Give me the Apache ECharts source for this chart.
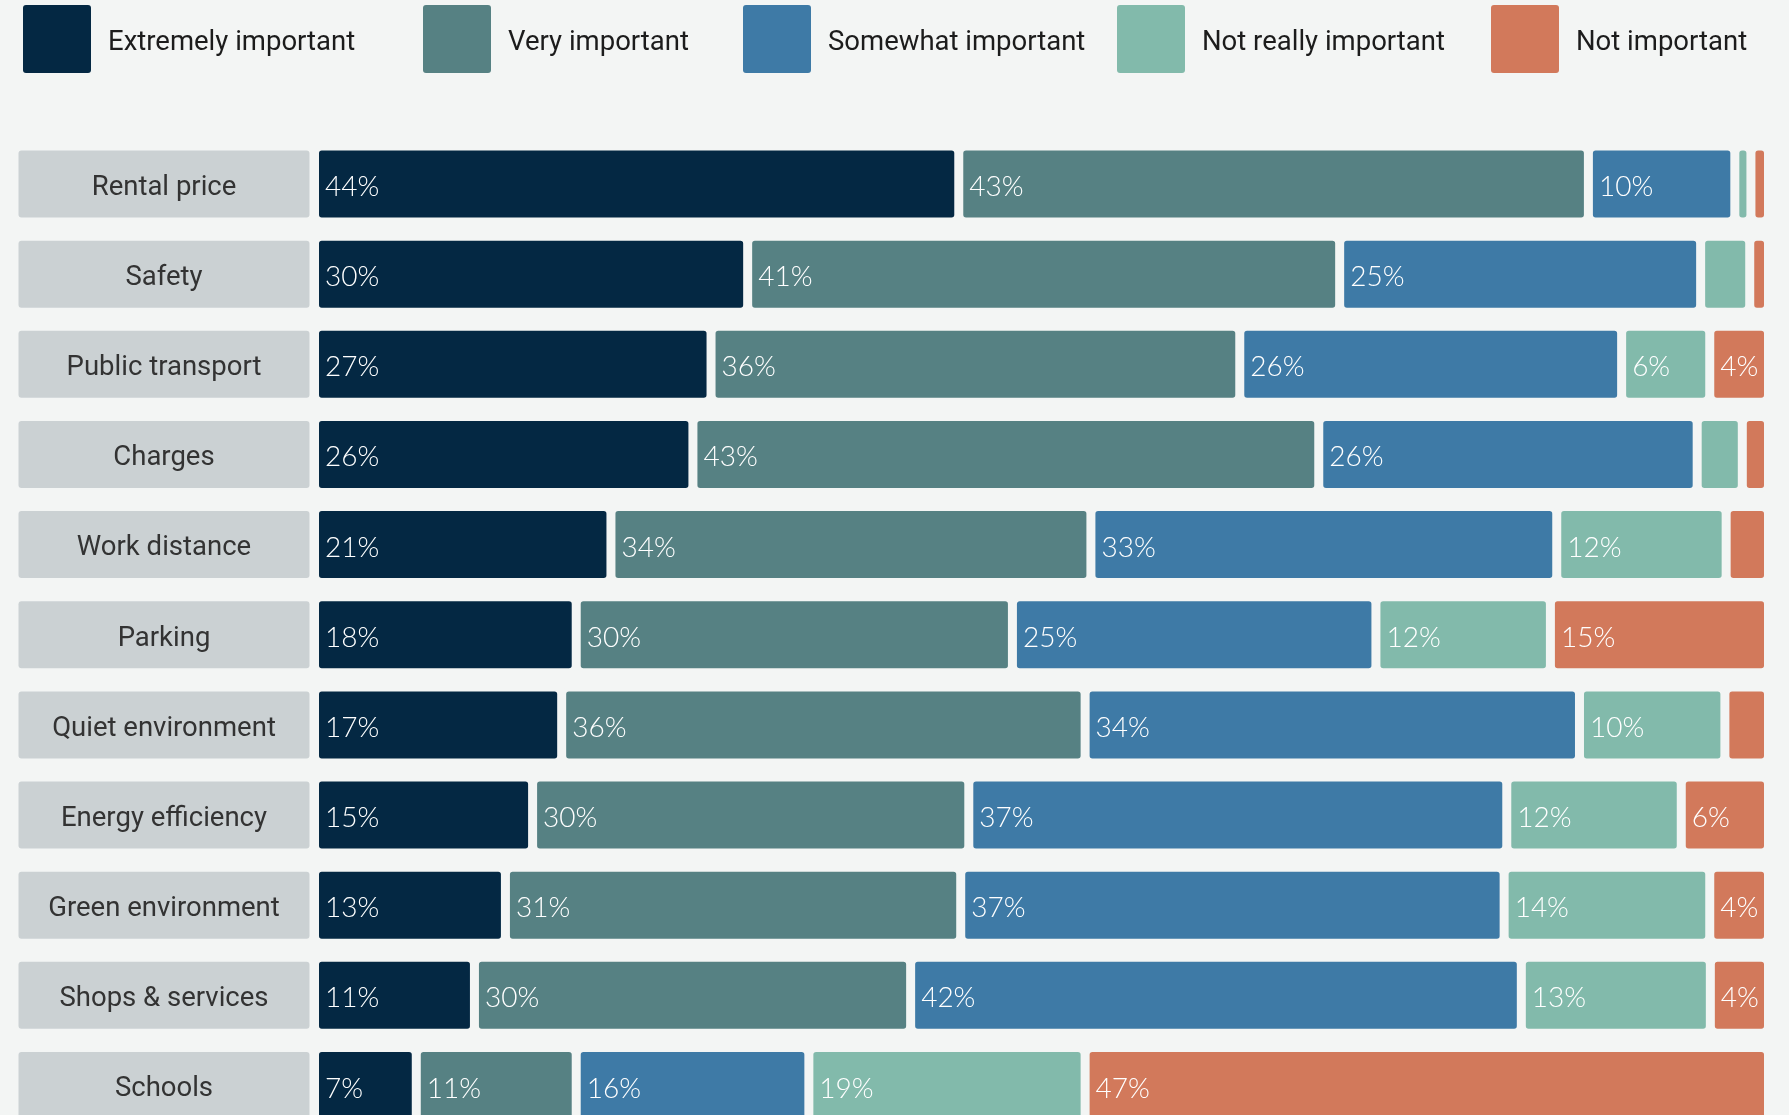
<!DOCTYPE html>
<html>
<head>
<meta charset="utf-8">
<title>Importance of housing criteria</title>
<script src="https://cdn.jsdelivr.net/npm/echarts@6/dist/echarts.min.js"></script>
<style>
  html, body { margin: 0; padding: 0; background: #f3f5f4; }
  #chart { width: 1789px; height: 1115px; }
</style>
</head>
<body>
<div id="chart"></div>
<script>
// Criteria, top to bottom
const categories = [
  'Rental price', 'Safety', 'Public transport', 'Charges', 'Work distance',
  'Parking', 'Quiet environment', 'Energy efficiency', 'Green environment',
  'Shops & services', 'Schools'
];

// Share of respondents (%) per answer
const extremelyImportant = [44, 30, 27, 26, 21, 18, 17, 15, 13, 11, 7];
const veryImportant      = [43, 41, 36, 43, 34, 30, 36, 30, 31, 30, 11];
const somewhatImportant  = [10, 25, 26, 26, 33, 25, 34, 37, 37, 42, 16];
const notReallyImportant = [1.1, 3.4, 6, 3.1, 12, 12, 10, 12, 14, 13, 19];
const notImportant       = [1.2, 1.3, 4, 1.8, 3, 15, 3, 6, 4, 4, 47];

const seriesNames = ['Extremely important', 'Very important', 'Somewhat important', 'Not really important', 'Not important'];
const seriesValues = [extremelyImportant, veryImportant, somewhatImportant, notReallyImportant, notImportant];
const seriesColors = ['#042843', '#568183', '#3e7aa6', '#82baab', '#d2795b'];

const BG = '#f3f5f4';
const FONT = 'Roboto, "Noto Sans", sans-serif';
const VALUE_FONT = 'Lato, Roboto, sans-serif';

// each row is shown as a 100% bar
const rowTotals = categories.map((_, i) => seriesValues.reduce((s, arr) => s + arr[i], 0));

const legendLefts = [23, 423, 743, 1117, 1491];
const squareIcon = 'path://M3,0 H65 Q68,0 68,3 V65 Q68,68 65,68 H3 Q0,68 0,65 V3 Q0,0 3,0 Z';

const chart = echarts.init(document.getElementById('chart'), null, { renderer: 'canvas' });

chart.setOption({
  backgroundColor: BG,
  animation: false,
  color: seriesColors,
  legend: seriesNames.map((name, k) => ({
    data: [name],
    left: legendLefts[k],
    top: 5,
    padding: 0,
    selectedMode: false,
    icon: squareIcon,
    itemWidth: 68,
    itemHeight: 68,
    itemStyle: { borderWidth: 0 },
    formatter: n => '{t|' + n + '}',
    textStyle: {
      rich: {
        t: {
          fontFamily: FONT,
          fontSize: 27.5,
          color: '#1c1c1c',
          padding: [8, 0, 0, 12]
        }
      }
    }
  })),
  grid: {
    left: 314.5,
    right: 20.5,
    top: 138.9,
    height: 991.7,
    containLabel: false,
    outerBoundsMode: 'none'
  },
  xAxis: {
    type: 'value',
    min: 0,
    max: 100,
    show: false
  },
  yAxis: {
    type: 'category',
    data: categories,
    inverse: true,
    axisLine: { show: false },
    axisTick: { show: false },
    splitLine: { show: false },
    axisLabel: {
      interval: 0,
      margin: 5,
      formatter: v => '{box|' + v + '}',
      rich: {
        box: {
          width: 291,
          height: 59,
          lineHeight: 59,
          padding: [8, 0, 0, 0],
          align: 'center',
          verticalAlign: 'middle',
          backgroundColor: '#cbd1d3',
          borderRadius: 3,
          fontFamily: FONT,
          fontSize: 27.5,
          color: '#333333'
        }
      }
    }
  },
  series: seriesNames.map((name, k) => ({
    name,
    type: 'bar',
    stack: 'share',
    barWidth: 76,
    itemStyle: {
      color: seriesColors[k],
      borderColor: BG,
      borderWidth: 4.5,
      borderRadius: 5
    },
    label: {
      show: true,
      position: 'insideLeft',
      distance: 10.5,
      offset: [0, 3],
      color: '#ffffff',
      fontFamily: VALUE_FONT,
      fontSize: 28,
      fontWeight: 300,
      formatter: p => p.data.raw + '%'
    },
    emphasis: { disabled: true },
    data: seriesValues[k].map((v, i) => ({
      value: v / rowTotals[i] * 100,
      raw: v,
      label: { show: v >= 4 }
    }))
  }))
});
</script>
</body>
</html>
